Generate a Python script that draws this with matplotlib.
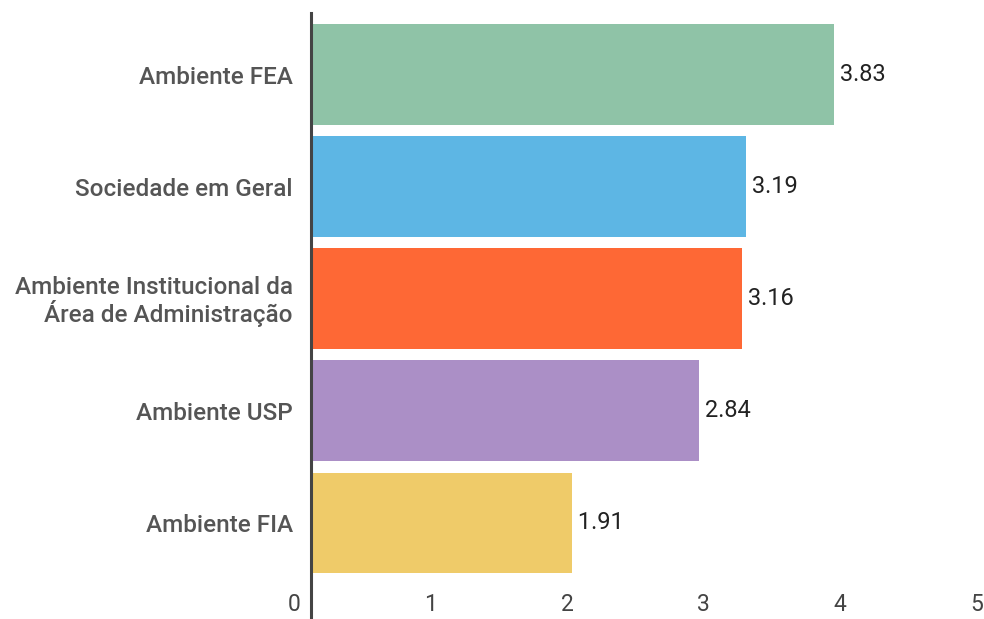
import matplotlib.pyplot as plt
import matplotlib.transforms as mtransforms

categories = [
    'Ambiente FEA',
    'Sociedade em Geral',
    'Ambiente Institucional da\nÁrea de Administração',
    'Ambiente USP',
    'Ambiente FIA',
]
values = [3.83, 3.19, 3.16, 2.84, 1.91]
colors = ['#8fc3a7', '#5db6e4', '#fe6835', '#ab8fc6', '#efcb69']
xticks = [0, 1, 2, 3, 4, 5]

plt.rcParams['font.family'] = ['Roboto', 'DejaVu Sans']

fig = plt.figure(figsize=(9.84, 6.19), dpi=100)
ax = fig.add_axes([311 / 984, 0, 1 - 311 / 984, 1 - 13 / 619])

ypos = list(range(len(categories)))
ax.barh(ypos, values, height=0.9, color=colors)
ax.set_ylim(4.857, -0.55)
ax.set_xlim(0, (984 - 311) / 136.5)

for y, v in zip(ypos, values):
    ax.text(v, y, ' ' + f'{v:.2f}', va='center', ha='left', fontsize=17, color='#222222')

ax.set_yticks(ypos)
ax.set_yticklabels(categories, fontsize=17.5, color='#555555', linespacing=1.05,
                   fontweight='medium')
ax.tick_params(axis='y', length=0, pad=13)

ax.set_xticks([])
shift = mtransforms.ScaledTranslation(-17 / 100, 0, fig.dpi_scale_trans)
trans = mtransforms.blended_transform_factory(ax.transData, ax.transAxes) + shift
for t in xticks:
    ax.text(t, 0.005, str(t), transform=trans, ha='center', va='bottom',
            fontsize=16.5, color='#444444', clip_on=False)

for s in ['top', 'right', 'bottom']:
    ax.spines[s].set_visible(False)
ax.spines['left'].set_color('#444444')
ax.spines['left'].set_linewidth(2.2)

fig.savefig('out.png', dpi=100)
